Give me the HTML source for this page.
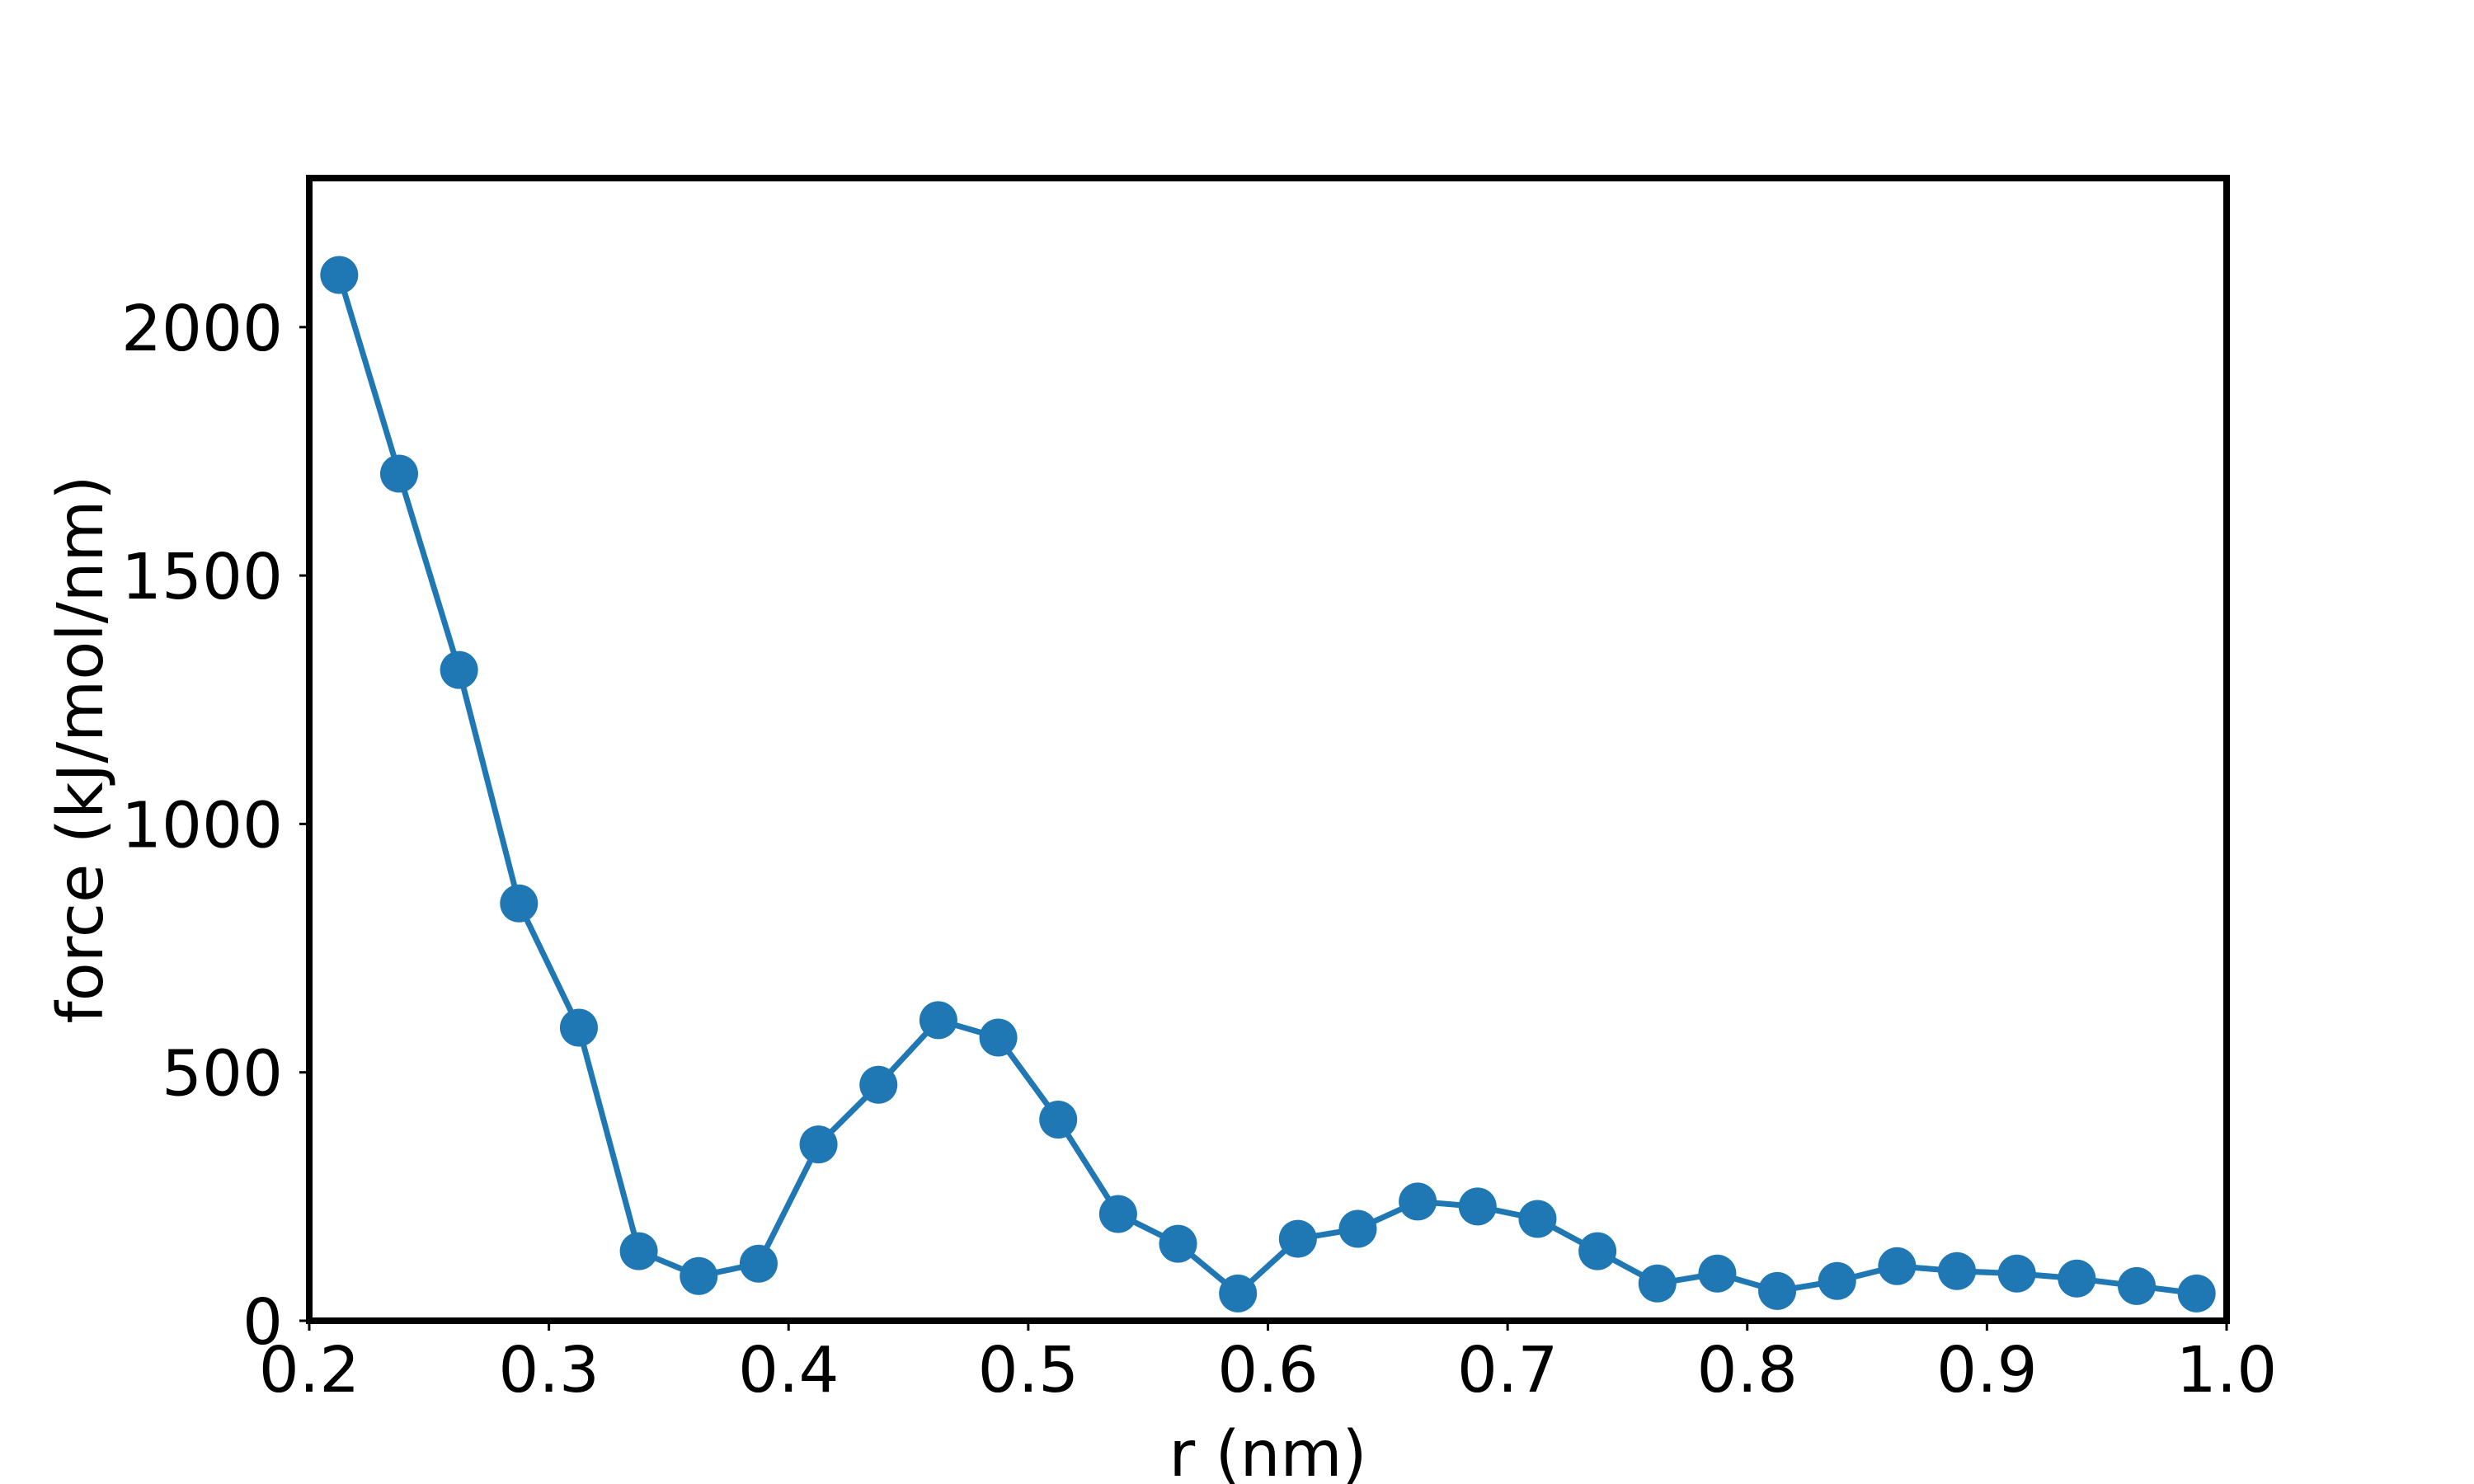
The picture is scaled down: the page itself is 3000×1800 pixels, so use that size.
<!DOCTYPE html>
<html><head><meta charset="utf-8"><style>
html,body{margin:0;padding:0;background:#fff;}
svg{display:block;font-family:"DejaVu Sans","Liberation Sans",sans-serif;}
</style></head><body>
<svg id="chart" width="3000" height="1800" viewBox="0 0 3000 1800">
<rect width="3000" height="1800" fill="#fff"/>
<g id="plot"></g>
</svg>
<script>
const rValues=[0.2125,0.2375,0.2625,0.2875,0.3125,0.3375,0.3625,0.3875,0.4125,0.4375,0.4625,0.4875,0.5125,0.5375,0.5625,0.5875,0.6125,0.6375,0.6625,0.6875,0.7125,0.7375,0.7625,0.7875,0.8125,0.8375,0.8625,0.8875,0.9125,0.9375,0.9625,0.9875];
const forceValues=[2105,1705,1310,840,590,140,90,115,355,475,605,570,405,215,155,55,165,185,240,230,205,140,75,95,60,80,110,100,95,85,70,55];
const xTicks=[0.2,0.3,0.4,0.5,0.6,0.7,0.8,0.9,1.0];
const xTickLabels=["0.2","0.3","0.4","0.5","0.6","0.7","0.8","0.9","1.0"];
const yTicks=[0,500,1000,1500,2000];
const yTickLabels=["0","500","1000","1500","2000"];

const L=375,R=2700,T=216,B=1602;
const xMin=0.2,xMax=1.0,yMin=0,yMax=2300;
const xs=v=>L+(v-xMin)/(xMax-xMin)*(R-L);
const ys=v=>B-(v-yMin)/(yMax-yMin)*(B-T);
const NS="http://www.w3.org/2000/svg";
const g=document.getElementById('plot');
function mk(tag,attrs,parent){const e=document.createElementNS(NS,tag);for(const k in attrs)e.setAttribute(k,attrs[k]);(parent||g).appendChild(e);return e;}

let d=rValues.map((r,i)=>(i?'L':'M')+xs(r)+' '+ys(forceValues[i])).join(' ');
const line=mk('path',{d:d,fill:'none',stroke:'#1f77b4','stroke-width':7,'stroke-linejoin':'round'});


rValues.forEach((r,i)=>{
  const c=mk('circle',{cx:xs(r),cy:ys(forceValues[i]),r:23,fill:'#1f77b4'});
  
  
});

const frame=mk('rect',{x:L,y:T,width:R-L,height:B-T,fill:'none',stroke:'#000','stroke-width':8});



xTicks.forEach((v,i)=>{
  const x=xs(v);
  const t=mk('line',{x1:x,x2:x,y1:B,y2:B+12,stroke:'#000','stroke-width':3});
  
  
  const tx=mk('text',{x:x,y:1688,'font-size':77,'text-anchor':'middle',fill:'#000'});
  tx.textContent=xTickLabels[i];
  
  
});
yTicks.forEach((v,i)=>{
  const y=ys(v);
  const t=mk('line',{x1:L-12,x2:L,y1:y,y2:y,stroke:'#000','stroke-width':3});
  
  
  const tx=mk('text',{x:343,y:y+28,'font-size':77,'text-anchor':'end',fill:'#000'});
  tx.textContent=yTickLabels[i];
  
  
});
const xl=mk('text',{x:(L+R)/2,y:1790,'font-size':77,'text-anchor':'middle',fill:'#000'});
xl.textContent='r (nm)';


const yl=mk('text',{x:0,y:0,'font-size':77,'text-anchor':'middle',fill:'#000',transform:'translate(124,'+((T+B)/2)+') rotate(-90)'});
yl.textContent='force (kJ/mol/nm)';


</script>
</body></html>
